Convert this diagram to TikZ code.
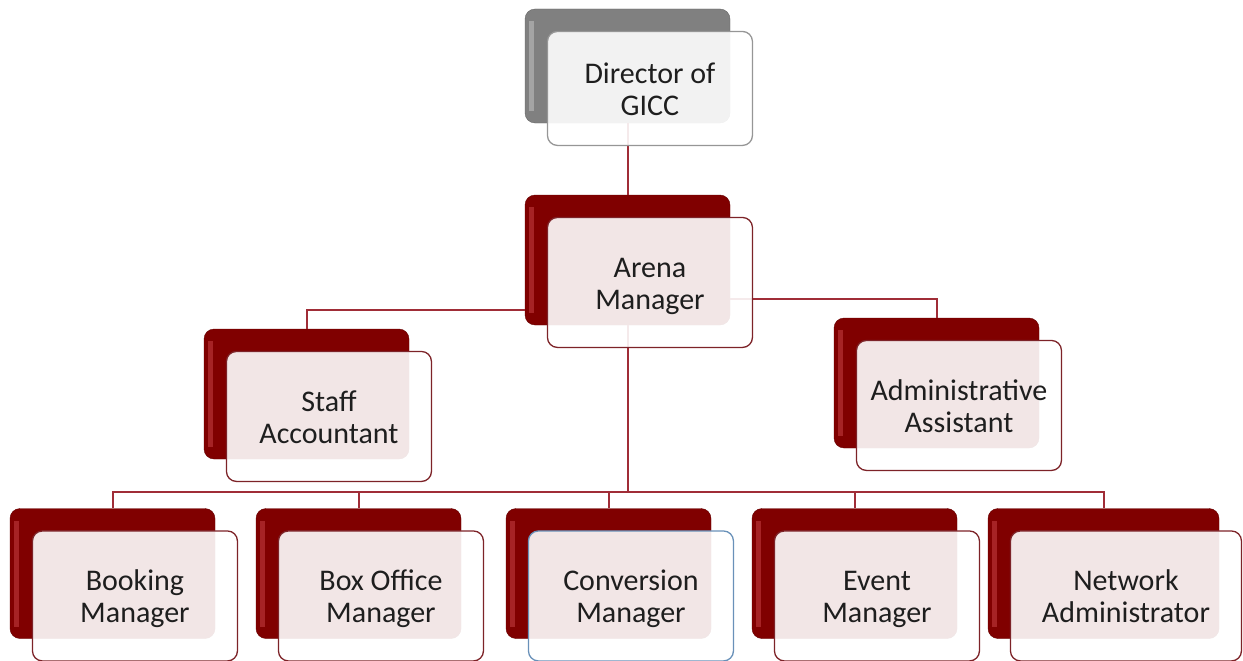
\documentclass[tikz,border=0pt]{standalone}
\usepackage{fontspec}
\setmainfont{Carlito}
\usetikzlibrary{positioning}
\definecolor{darkred}{RGB}{128,0,0}
\definecolor{glowred}{RGB}{205,70,75}
\definecolor{linered}{RGB}{160,45,55}
\definecolor{rimred}{RGB}{125,35,40}
\definecolor{midgray}{RGB}{128,128,128}
\definecolor{glowgray}{RGB}{200,200,200}
\definecolor{rimgray}{RGB}{150,150,150}
\definecolor{selblue}{RGB}{105,145,185}
\definecolor{textgray}{RGB}{30,30,30}
\newcommand{\twolines}[2]{\rule{0pt}{31pt}#1\\#2\strut}

\begin{document}
\begin{tikzpicture}[x=1pt, y=-1pt,
  backbox/.style={rectangle, rounded corners=10pt, fill=darkred, draw=darkred!80!black,
                  minimum width=205pt, minimum height=130pt, inner sep=0pt,
                  path picture={\fill[#1, opacity=0.5, sharp corners]
                    ([xshift=4pt,yshift=-12pt]path picture bounding box.north west) rectangle
                    ([xshift=9pt,yshift=12pt]path picture bounding box.south west);}},
  backbox/.default=glowred,
  frontbox/.style={rectangle, rounded corners=10pt, draw=rimred, line width=1.3pt,
                   fill=white, fill opacity=0.9, text opacity=1, text=textgray,
                   minimum width=205pt, minimum height=130pt, inner sep=0pt,
                   align=center, font=\fontsize{30}{32}\selectfont},
  wide/.style={minimum width=231pt},
  selected/.style={draw=selblue},
  link/.style={draw=linered, line width=2pt}
]
\useasboundingbox (0,0) rectangle (1243,661);

% back boxes
\node[backbox=glowgray, fill=midgray, draw=midgray!80!black, minimum height=114pt] (dirB) at (627.5,66) {};
\node[backbox] (arenaB) at (627.5,260) {};
\node[backbox] (staffB) at (306.5,394) {};
\node[backbox] (adminB) at (936.5,383) {};
\node[backbox] (bookingB) at (112.5,573.5) {};
\node[backbox] (boxofficeB) at (358.5,573.5) {};
\node[backbox] (conversionB) at (608.5,573.5) {};
\node[backbox] (eventB) at (854.5,573.5) {};
\node[backbox, wide] (networkB) at (1103.5,573.5) {};

% connectors
\coordinate (bus) at (627.5,492);
\draw[link] (dirB) -- (arenaB);
\draw[link] ([yshift=-50pt]arenaB.west) -| (staffB.north);
\draw[link] ([yshift=-39pt]arenaB.east) -| (adminB.north);
\draw[link] (arenaB) -- (bus);
\foreach \n in {bookingB, boxofficeB, conversionB, eventB, networkB}
  \draw[link] (bus) -| (\n.north);

% front boxes
\node[frontbox, draw=rimgray, minimum height=114pt,
      below right=22pt and 22pt of dirB.north west] (dir) {\twolines{Director of}{GICC}};
\node[frontbox, below right=22pt and 22pt of arenaB.north west] (arena) {\twolines{Arena}{Manager}};
\node[frontbox, below right=22pt and 22pt of staffB.north west] (staff) {\twolines{Staff}{Accountant}};
\node[frontbox, below right=22pt and 22pt of adminB.north west] (admin) {\twolines{Administrative}{Assistant}};
\node[frontbox, below right=22pt and 22pt of bookingB.north west] (booking) {\twolines{Booking}{Manager}};
\node[frontbox, below right=22pt and 22pt of boxofficeB.north west] (boxoffice) {\twolines{Box Office}{Manager}};
\node[frontbox, selected, below right=22pt and 22pt of conversionB.north west] (conversion) {\twolines{Conversion}{Manager}};
\node[frontbox, below right=22pt and 22pt of eventB.north west] (event) {\twolines{Event}{Manager}};
\node[frontbox, wide, below right=22pt and 22pt of networkB.north west] (network) {\twolines{Network}{Administrator}};
\end{tikzpicture}
\end{document}
